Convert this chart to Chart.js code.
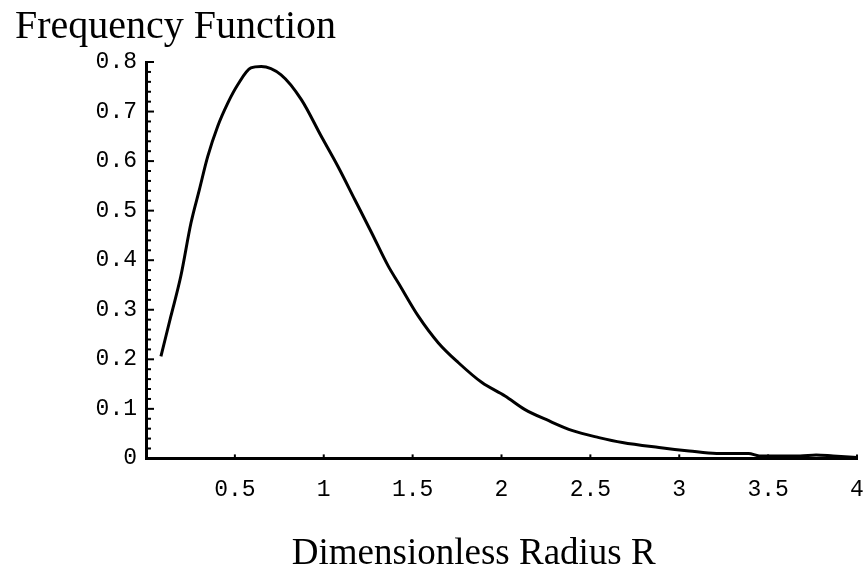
<!DOCTYPE html>
<html>
<head>
<meta charset="utf-8">
<script src="https://cdn.jsdelivr.net/npm/chart.js@4"></script>
<style>
  html, body { margin: 0; padding: 0; background: #fff; }
  #wrap { width: 867px; height: 565px; }
</style>
</head>
<body>
<div id="wrap"><canvas id="freqChart"></canvas></div>
<script>
// values
const radius = [0.084, 0.14, 0.196, 0.253, 0.30, 0.347, 0.403, 0.46, 0.516, 0.59, 0.648, 0.76, 0.874, 0.986, 1.08, 1.175, 1.27, 1.363, 1.42, 1.532, 1.645, 1.758, 1.89, 2.02, 2.13, 2.266, 2.4, 2.548, 2.68, 2.886, 3.056, 3.21, 3.39, 3.45, 3.68, 3.77, 3.865, 4.0];
const freq = [0.206, 0.287, 0.368, 0.475, 0.542, 0.609, 0.670, 0.717, 0.754, 0.788, 0.791, 0.774, 0.724, 0.650, 0.589, 0.522, 0.455, 0.388, 0.354, 0.287, 0.233, 0.193, 0.153, 0.126, 0.099, 0.076, 0.056, 0.042, 0.032, 0.022, 0.015, 0.010, 0.010, 0.005, 0.005, 0.007, 0.005, 0.002];
const yMinorTicks = [0, 0.02, 0.04, 0.06, 0.08, 0.1, 0.12, 0.14, 0.16, 0.18, 0.2, 0.22, 0.24, 0.26, 0.28, 0.3, 0.32, 0.34, 0.36, 0.38, 0.4, 0.42, 0.44, 0.46, 0.48, 0.5, 0.52, 0.54, 0.56, 0.58, 0.6, 0.62, 0.64, 0.66, 0.68, 0.7, 0.72, 0.74, 0.76, 0.78, 0.8];
const xTicks = [0.5, 1, 1.5, 2, 2.5, 3, 3.5, 4];

const tickFont = { family: 'Liberation Mono', size: 23 };
const serif = 'Liberation Serif';

// ticks pointing into the plot, like the original
const inwardTicks = {
    id: 'inwardTicks',
    afterDraw(chart) {
        const { ctx, scales: { x, y } } = chart;
        ctx.save();
        ctx.strokeStyle = '#000';
        ctx.lineWidth = 2;
        yMinorTicks.forEach((v, i) => {
            const py = y.getPixelForValue(v);
            const len = i % 5 === 0 ? 8 : 5;
            ctx.beginPath();
            ctx.moveTo(x.left, py);
            ctx.lineTo(x.left + len, py);
            ctx.stroke();
        });
        xTicks.forEach(v => {
            const px = x.getPixelForValue(v);
            ctx.beginPath();
            ctx.moveTo(px, y.bottom);
            ctx.lineTo(px, y.bottom - 4);
            ctx.stroke();
        });
        ctx.restore();
    }
};

const ctx = document.getElementById('freqChart').getContext('2d');
const freqChart = new Chart(ctx, {
    type: 'line',
    data: {
        datasets: [{
            label: 'Frequency Function',
            data: radius.map((r, i) => ({ x: r, y: freq[i] })),
            borderColor: '#000',
            borderWidth: 3,
            pointRadius: 0,
            fill: false,
            cubicInterpolationMode: 'monotone'
        }]
    },
    options: {
        responsive: true,
        maintainAspectRatio: false,
        animation: false,
        layout: {
            padding: { left: 15, right: 10, top: 0, bottom: 0 }
        },
        plugins: {
            legend: { display: false },
            tooltip: { enabled: false },
            title: {
                display: true,
                text: 'Frequency Function',
                align: 'start',
                color: '#000',
                font: { family: serif, size: 40, weight: 'normal', lineHeight: 1 },
                padding: { top: 7, bottom: 15 }
            }
        },
        scales: {
            x: {
                type: 'linear',
                min: 0,
                max: 4,
                border: { display: true, color: '#000', width: 3 },
                // tick marks are hidden; tickLength only keeps the labels off the axis
                grid: { display: false, drawTicks: true, tickLength: 18 },
                ticks: {
                    stepSize: 0.5,
                    padding: 0,
                    color: '#000',
                    font: tickFont,
                    maxRotation: 0,
                    callback: v => v === 0 ? null : String(Math.round(v * 10) / 10)
                },
                title: {
                    display: true,
                    text: 'Dimensionless Radius R      ',
                    color: '#000',
                    font: { family: serif, size: 37, weight: 'normal', lineHeight: 1 },
                    padding: { top: 32, bottom: -8 }
                }
            },
            y: {
                min: 0,
                max: 0.8,
                border: { display: true, color: '#000', width: 3 },
                grid: { display: false, drawTicks: false },
                afterFit: scale => { scale.width = 131; },
                ticks: {
                    stepSize: 0.1,
                    padding: 9,
                    color: '#000',
                    font: tickFont,
                    callback: v => v === 0 ? '0' : v.toFixed(1)
                }
            }
        }
    },
    plugins: [inwardTicks]
});
</script>
</body>
</html>
